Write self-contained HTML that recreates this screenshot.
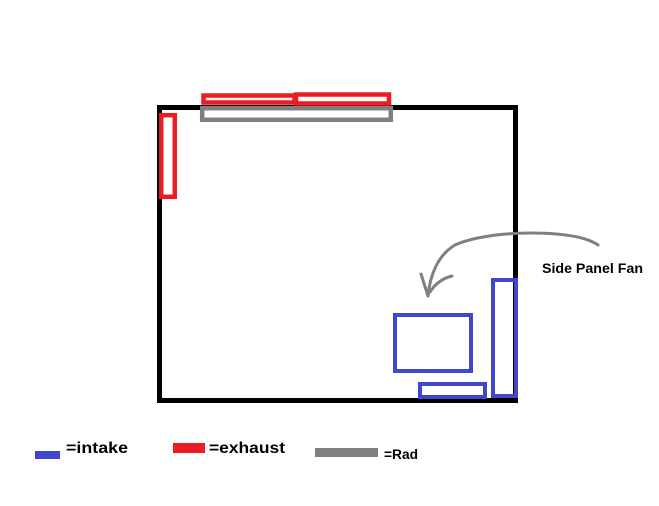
<!DOCTYPE html>
<html><head><style>
html,body{margin:0;padding:0;background:#fff;}
svg{display:block;}
text{font-family:"Liberation Sans",sans-serif;font-weight:bold;fill:#000;}
</style></head><body>
<svg width="659" height="506" viewBox="0 0 659 506" xmlns="http://www.w3.org/2000/svg">
<rect x="0" y="0" width="659" height="506" fill="#fff"/>
<rect x="159.5" y="107.5" width="356" height="293" fill="none" stroke="#000" stroke-width="5"/>
<rect x="203.5" y="95.5" width="91" height="7" fill="none" stroke="#ed1c24" stroke-width="4.5"/>
<rect x="296" y="94.5" width="93" height="9" fill="none" stroke="#ed1c24" stroke-width="4.5"/>
<rect x="202.2" y="108.2" width="188.6" height="11.6" fill="#fff" stroke="#7f7f7f" stroke-width="4.5"/>
<rect x="161.2" y="115.2" width="13.6" height="81.6" fill="#fff" stroke="#ed1c24" stroke-width="4.5"/>
<rect x="395" y="315" width="76" height="56" fill="none" stroke="#3f48cc" stroke-width="4"/>
<rect x="420" y="384" width="65" height="13" fill="none" stroke="#3f48cc" stroke-width="4"/>
<rect x="493" y="280" width="23" height="116" fill="none" stroke="#3f48cc" stroke-width="4"/>
<path d="M598 245 C585 236 560 233 530 233 C500 233 470 238 455 245 C438 255 430 275 428 296" fill="none" stroke="#7f7f7f" stroke-width="3" stroke-linecap="round"/>
<path d="M421 274 L428 296 M452 276 C443 278 435 284 430 292" fill="none" stroke="#7f7f7f" stroke-width="3" stroke-linecap="round"/>
<text x="542" y="273" font-size="14" textLength="101" lengthAdjust="spacingAndGlyphs">Side Panel Fan</text>
<rect x="35" y="451" width="25" height="8" fill="#3f48cc"/>
<text x="66" y="453" font-size="16" textLength="62" lengthAdjust="spacingAndGlyphs">=intake</text>
<rect x="173" y="443" width="32" height="10" fill="#ed1c24"/>
<text x="209" y="453" font-size="16" textLength="76" lengthAdjust="spacingAndGlyphs">=exhaust</text>
<rect x="315" y="448" width="63" height="9" fill="#7f7f7f"/>
<text x="384" y="459" font-size="13.5" textLength="34" lengthAdjust="spacingAndGlyphs">=Rad</text>
</svg>
</body></html>
